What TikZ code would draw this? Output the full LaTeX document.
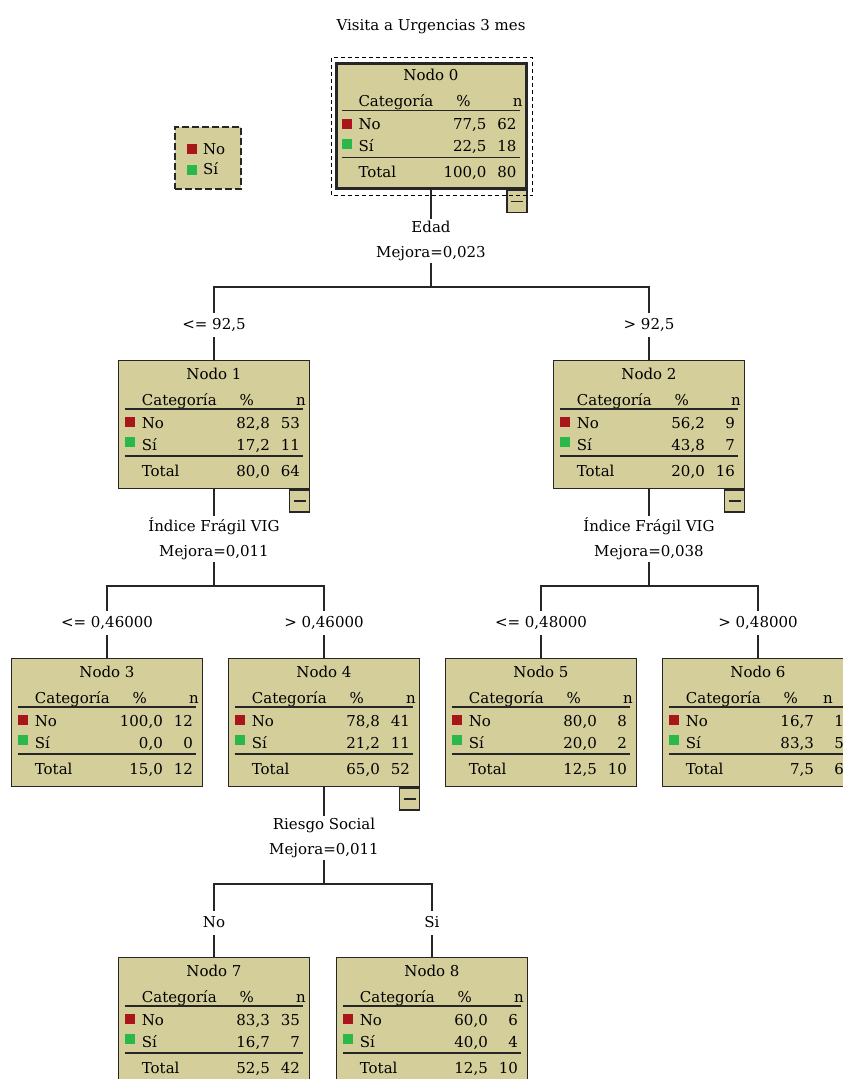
\documentclass[tikz,border=0pt]{standalone}
\usepackage{fontspec}
\setmainfont{DejaVu Serif}
\usepackage{xcolor}
\usepackage{tikz}
\usetikzlibrary{positioning}

\definecolor{caqui}{RGB}{212,206,154}
\definecolor{rojo}{RGB}{168,22,26}
\definecolor{verde}{RGB}{42,184,74}

% contenido de una caja de nodo: nombre, titulo, %No, nNo, %Si, nSi, %Total, nTotal, x de la cabecera n
\newcommand{\tabla}[9]{%
  \node[txt, anchor=base] (#1-tit) at ([yshift=-19pt]#1.north) {#2};
  \node[txt, anchor=base west] (#1-cat) at ([xshift=24pt,yshift=-45pt]#1.north west) {Categoría};
  \node[txt, anchor=base] (#1-pc) at ([xshift=129pt,yshift=-45pt]#1.north west) {\%};
  \node[txt, anchor=base east] (#1-n) at ([xshift=#9,yshift=-45pt]#1.north west) {n};
  \draw[sep] ([xshift=7pt,yshift=-49pt]#1.north west) -- ([xshift=185pt,yshift=-49pt]#1.north west);
  \node[cuadro, fill=rojo] (#1-rq) at ([xshift=12pt,yshift=-62pt]#1.north west) {};
  \node[txt, anchor=base west] (#1-no) at ([xshift=24pt,yshift=-68pt]#1.north west) {No};
  \node[txt, anchor=base east] (#1-nop) at ([xshift=152pt,yshift=-68pt]#1.north west) {#3};
  \node[txt, anchor=base east] (#1-non) at ([xshift=182pt,yshift=-68pt]#1.north west) {#4};
  \node[cuadro, fill=verde] (#1-vq) at ([xshift=12pt,yshift=-82pt]#1.north west) {};
  \node[txt, anchor=base west] (#1-si) at ([xshift=24pt,yshift=-90pt]#1.north west) {Sí};
  \node[txt, anchor=base east] (#1-sip) at ([xshift=152pt,yshift=-90pt]#1.north west) {#5};
  \node[txt, anchor=base east] (#1-sin) at ([xshift=182pt,yshift=-90pt]#1.north west) {#6};
  \draw[sep] ([xshift=7pt,yshift=-96pt]#1.north west) -- ([xshift=185pt,yshift=-96pt]#1.north west);
  \node[txt, anchor=base west] (#1-tot) at ([xshift=24pt,yshift=-116pt]#1.north west) {Total};
  \node[txt, anchor=base east] (#1-top) at ([xshift=152pt,yshift=-116pt]#1.north west) {#7};
  \node[txt, anchor=base east] (#1-ton) at ([xshift=182pt,yshift=-116pt]#1.north west) {#8};
}

\begin{document}
\begin{tikzpicture}[
  x=1pt, y=-1pt,
  font=\fontsize{15}{25}\selectfont,
  caja/.style={draw=black!85, fill=caqui, line width=1.3pt,
    minimum width=191pt, minimum height=128pt, inner sep=0pt},
  raiz/.style={caja, line width=3pt, minimum width=190pt, minimum height=125pt},
  txt/.style={inner sep=0pt, outer sep=0pt},
  sep/.style={line width=1.2pt, draw=black!85},
  cuadro/.style={minimum size=10pt, inner sep=0pt, outer sep=0pt},
  menos/.style={draw=black!85, fill=caqui, line width=1.3pt,
    minimum width=20pt, minimum height=22pt, inner sep=0pt,
    path picture={\draw[line width=1.2pt]
      ([xshift=-6pt]path picture bounding box.center) --
      ([xshift=6pt]path picture bounding box.center);}},
  marco/.style={draw=black, dashed, dash pattern=on 4pt off 3pt, line width=1.3pt},
  leyenda/.style={draw=black!85, fill=caqui, line width=1.6pt,
    dash pattern=on 7pt off 3pt, minimum width=66pt, minimum height=62pt, inner sep=0pt},
  regla/.style={align=center, inner sep=2pt},
  rama/.style={inner xsep=2pt, inner ysep=5pt, text height=11pt, text depth=3pt},
  linea/.style={line width=1.3pt, draw=black!85},
]
\useasboundingbox (0,0) rectangle (843,1079);
\clip (0,0) rectangle (843,1079);

\node[txt, anchor=base] (titulo) at (431,30) {Visita a Urgencias 3 mes};

% leyenda
\node[leyenda, anchor=north west] (ley) at (174,126) {};
\node[cuadro, fill=rojo, right=13pt of ley.west, yshift=9pt, anchor=west] (ley-rq) {};
\node[cuadro, fill=verde, right=13pt of ley.west, yshift=-12pt, anchor=west] (ley-vq) {};
\node[txt, anchor=base west] (ley-no) at (203,154) {No};
\node[txt, anchor=base west] (ley-si) at (203,174) {Sí};

% cajas
\node[raiz, anchor=north] (n0) at (431,61.5) {};
\node[caja, anchor=north] (n1) at (214,360) {};
\node[caja, anchor=north] (n2) at (649,360) {};
\node[caja, anchor=north] (n3) at (107,658) {};
\node[caja, anchor=north] (n4) at (324,658) {};
\node[caja, anchor=north] (n5) at (541,658) {};
\node[caja, anchor=north] (n6) at (758,658) {};
\node[caja, anchor=north] (n7) at (214,957) {};
\node[caja, anchor=north] (n8) at (432,957) {};

\tabla{n0}{Nodo 0}{77,5}{62}{22,5}{18}{100,0}{80}{188pt}
\tabla{n1}{Nodo 1}{82,8}{53}{17,2}{11}{80,0}{64}{188pt}
\tabla{n2}{Nodo 2}{56,2}{9}{43,8}{7}{20,0}{16}{188pt}
\tabla{n3}{Nodo 3}{100,0}{12}{0,0}{0}{15,0}{12}{188pt}
\tabla{n4}{Nodo 4}{78,8}{41}{21,2}{11}{65,0}{52}{188pt}
\tabla{n5}{Nodo 5}{80,0}{8}{20,0}{2}{12,5}{10}{188pt}
\tabla{n6}{Nodo 6}{16,7}{1}{83,3}{5}{7,5}{6}{171pt}
\tabla{n7}{Nodo 7}{83,3}{35}{16,7}{7}{52,5}{42}{188pt}
\tabla{n8}{Nodo 8}{60,0}{6}{40,0}{4}{12,5}{10}{188pt}

\node[menos, anchor=north east] (n0m) at (n0.south east) {};
\node[menos, anchor=north east] (n1m) at (n1.south east) {};
\node[menos, anchor=north east] (n2m) at (n2.south east) {};
\node[menos, anchor=north east] (n4m) at (n4.south east) {};

\draw[marco] ([shift={(-3pt,4pt)}]n0.north west) rectangle ([shift={(5pt,-6pt)}]n0.south east);

% divisiones
\node[regla] (r0) at (431,241) {Edad\\Mejora=0,023};
\node[regla] (r1) at (214,539) {Índice Frágil VIG\\Mejora=0,011};
\node[regla] (r2) at (649,539) {Índice Frágil VIG\\Mejora=0,038};
\node[regla] (r4) at (324,838) {Riesgo Social\\Mejora=0,011};

\coordinate (h0) at (431,287);
\coordinate (h1) at (214,586);
\coordinate (h2) at (649,586);
\coordinate (h4) at (324,884);

\node[rama, anchor=base] (b1) at (214,329) {<= 92,5};
\node[rama, anchor=base] (b2) at (649,329) {> 92,5};
\node[rama, anchor=base] (b3) at (107,627) {<= 0,46000};
\node[rama, anchor=base] (b4) at (324,627) {> 0,46000};
\node[rama, anchor=base] (b5) at (541,627) {<= 0,48000};
\node[rama, anchor=base] (b6) at (758,627) {> 0,48000};
\node[rama, anchor=base] (b7) at (214,927) {No};
\node[rama, anchor=base] (b8) at (432,927) {Si};

\draw[linea] (n0.south) -- (r0.north);
\draw[linea] (r0.south) -- (h0);
\draw[linea] (b1.north) |- (h0) -| (b2.north);
\draw[linea] (b1.south) -- (n1.north);
\draw[linea] (b2.south) -- (n2.north);

\draw[linea] (n1.south) -- (r1.north);
\draw[linea] (r1.south) -- (h1);
\draw[linea] (b3.north) |- (h1) -| (b4.north);
\draw[linea] (b3.south) -- (n3.north);
\draw[linea] (b4.south) -- (n4.north);

\draw[linea] (n2.south) -- (r2.north);
\draw[linea] (r2.south) -- (h2);
\draw[linea] (b5.north) |- (h2) -| (b6.north);
\draw[linea] (b5.south) -- (n5.north);
\draw[linea] (b6.south) -- (n6.north);

\draw[linea] (n4.south) -- (r4.north);
\draw[linea] (r4.south) -- (h4);
\draw[linea] (b7.north) |- (h4) -| (b8.north);
\draw[linea] (b7.south) -- (n7.north);
\draw[linea] (b8.south) -- (n8.north);
\end{tikzpicture}
\end{document}
